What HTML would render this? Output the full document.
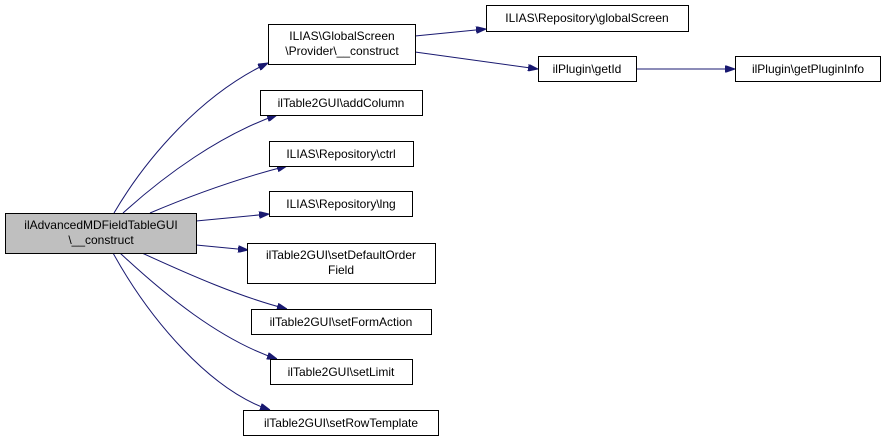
<!DOCTYPE html>
<html><head><meta charset="utf-8"><style>
html,body{margin:0;padding:0;background:#fff;}
svg{display:block;}
text{font-family:"Liberation Sans",Helvetica,Arial,sans-serif;font-size:12px;fill:#000;}
</style></head><body>
<svg width="885" height="441" viewBox="0 0 885 441" xmlns="http://www.w3.org/2000/svg">
<defs>
<marker id="a" viewBox="0 0 10 7" refX="10" refY="3.5" markerWidth="10" markerHeight="7" markerUnits="userSpaceOnUse" orient="auto">
<path d="M0,0 L10,3.5 L0,7 z" fill="#191970" stroke="#191970"/>
</marker>
</defs>
<g fill="none" stroke="#191970" stroke-width="1" marker-end="url(#a)">
<path d="M114,213 C145,160 200,95 268,63"/>
<path d="M123,213 C165,175 220,135 277,115"/>
<path d="M150,213 C190,196 240,178 287,166"/>
<path d="M196,221 L269,214"/>
<path d="M196,245 L248,250"/>
<path d="M142,253 C190,275 240,297 287,309"/>
<path d="M120,253 C165,295 220,340 277,359"/>
<path d="M113,253 C150,320 210,390 270,410"/>
<path d="M415,36 L486,29"/>
<path d="M415,52 L538,69"/>
<path d="M636,69 L735,69"/>
</g>
<g stroke="#000" stroke-width="1">
<rect x="5.5" y="213.5" width="191" height="40" fill="#bfbfbf"/>
<rect x="268.5" y="24.5" width="147" height="40" fill="#fff"/>
<rect x="260.5" y="90.5" width="162" height="25" fill="#fff"/>
<rect x="269.5" y="141.5" width="144" height="25" fill="#fff"/>
<rect x="269.5" y="191.5" width="143" height="25" fill="#fff"/>
<rect x="247.5" y="243.5" width="188" height="40" fill="#fff"/>
<rect x="251.5" y="309.5" width="180" height="25" fill="#fff"/>
<rect x="270.5" y="359.5" width="142" height="25" fill="#fff"/>
<rect x="243.5" y="410.5" width="195" height="25" fill="#fff"/>
<rect x="486.5" y="5.5" width="202" height="26" fill="#fff"/>
<rect x="538.5" y="56.5" width="98" height="25" fill="#fff"/>
<rect x="735.5" y="56.5" width="145" height="25" fill="#fff"/>
</g>
<g text-anchor="middle">
<text x="101" y="229">ilAdvancedMDFieldTableGUI</text>
<text x="101" y="244">\__construct</text>
<text x="342" y="40">ILIAS\GlobalScreen</text>
<text x="342" y="55">\Provider\__construct</text>
<text x="341" y="107">ilTable2GUI\addColumn</text>
<text x="341" y="158">ILIAS\Repository\ctrl</text>
<text x="341" y="208">ILIAS\Repository\lng</text>
<text x="341" y="259">ilTable2GUI\setDefaultOrder</text>
<text x="341" y="274">Field</text>
<text x="341" y="326">ilTable2GUI\setFormAction</text>
<text x="341" y="376">ilTable2GUI\setLimit</text>
<text x="341" y="427">ilTable2GUI\setRowTemplate</text>
<text x="587" y="22">ILIAS\Repository\globalScreen</text>
<text x="587" y="73">ilPlugin\getId</text>
<text x="808" y="73">ilPlugin\getPluginInfo</text>
</g>
</svg>
</body></html>
